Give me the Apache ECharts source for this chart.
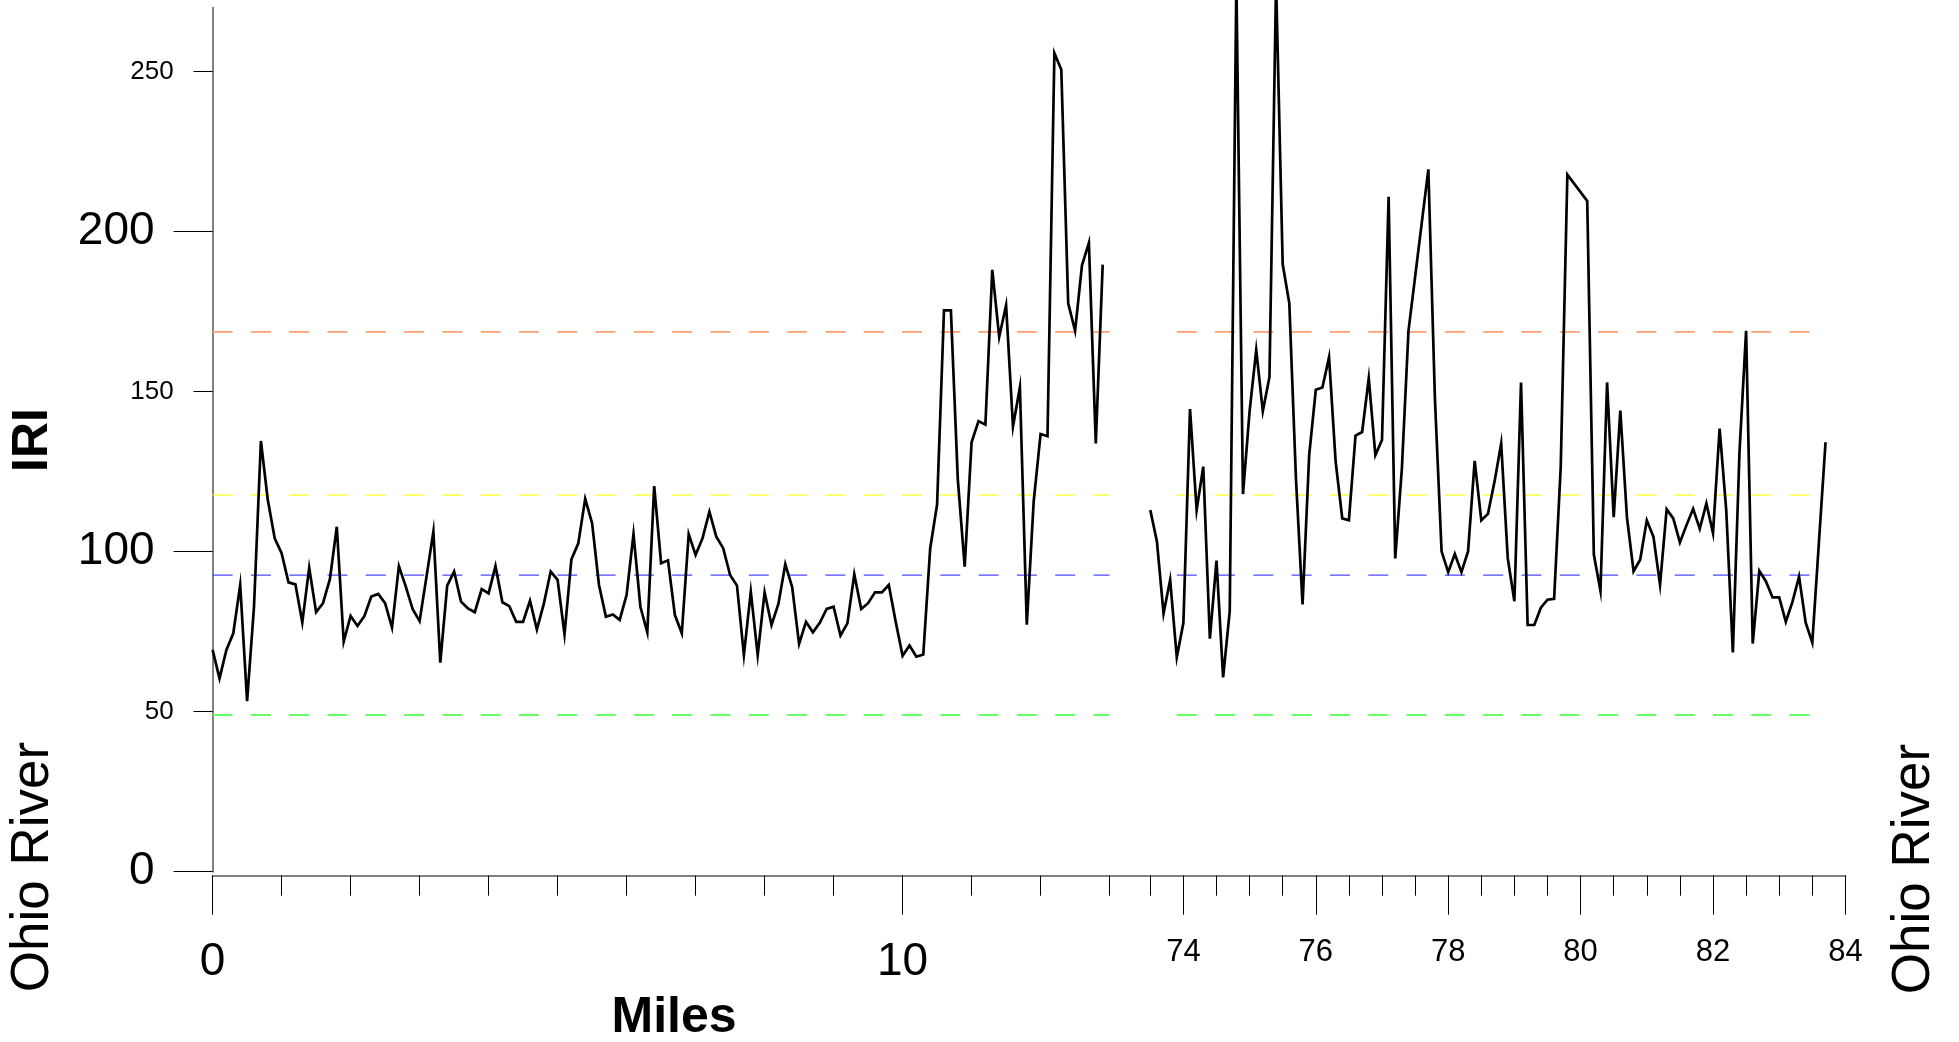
<!DOCTYPE html>
<html>
<head>
<meta charset="utf-8">
<script src="https://cdn.jsdelivr.net/npm/echarts@6/dist/echarts.min.js"></script>
<style>
html,body{margin:0;padding:0;background:#fff;}
#chart{width:1959px;height:1042px;}
</style>
</head>
<body>
<div id="chart"></div>
<script>
// ---- data (miles, IRI) ----
const leftMiles = [0.0,0.1,0.2,0.3,0.4,0.5,0.6,0.7,0.8,0.9,1.0,1.1,1.2,1.3,1.4,1.5,1.6,1.7,1.8,1.9,
2.0,2.1,2.2,2.3,2.4,2.5,2.6,2.7,2.8,2.9,3.0,3.1,3.2,3.3,3.4,3.5,3.6,3.7,3.8,3.9,
4.0,4.1,4.2,4.3,4.4,4.5,4.6,4.7,4.8,4.9,5.0,5.1,5.2,5.3,5.4,5.5,5.6,5.7,5.8,5.9,
6.0,6.1,6.2,6.3,6.4,6.5,6.6,6.7,6.8,6.9,7.0,7.1,7.2,7.3,7.4,7.5,7.6,7.7,7.8,7.9,
8.0,8.1,8.2,8.3,8.4,8.5,8.6,8.7,8.8,8.9,9.0,9.1,9.2,9.3,9.4,9.5,9.6,9.7,9.8,9.9,
10.0,10.1,10.2,10.3,10.4,10.5,10.6,10.7,10.8,10.9,11.0,11.1,11.2,11.3,11.4,11.5,11.6,11.7,11.8,11.9,
12.0,12.1,12.2,12.3,12.4,12.5,12.6,12.7,12.8,12.9];
const leftIRI = [69.3,60.4,69.3,74.5,89.6,53.3,82.8,134.6,116.2,104.2,99.5,90.4,89.8,77.9,95.0,81.1,83.9,91.4,107.8,71.9,
79.9,76.8,79.9,86.0,86.8,83.9,76.3,95.5,89.1,82.0,78.3,92.2,106.3,65.3,89.4,93.8,84.4,82.3,81.1,88.3,
87.0,95.5,84.2,83.0,78.1,78.1,84.7,75.7,83.7,93.8,91.2,74.2,97.6,102.6,116.5,108.9,89.6,79.7,80.4,78.7,
86.5,105.5,82.8,74.8,120.5,96.4,97.3,80.2,74.5,105.5,99.0,104.2,112.5,104.7,101.1,92.7,89.4,67.7,87.5,67.7,
87.3,77.1,83.7,96.1,88.9,71.2,78.1,74.8,77.8,82.1,82.8,73.8,77.6,92.9,82.1,83.9,87.3,87.3,89.6,78.1,
67.5,70.7,67.2,67.9,101.0,114.8,175.4,175.4,122.7,95.3,134.2,140.8,139.7,188.1,167.1,177.0,139.1,151.4,77.2,115.7,
136.8,136.1,255.8,250.7,177.6,169.0,189.5,196.5,133.8,189.7];

const rightMiles = [73.5,73.6,73.7,73.8,73.9,74.0,74.1,74.2,74.3,74.4,74.5,74.6,74.7,74.8,74.9,
75.0,75.1,75.2,75.3,75.4,75.5,75.6,75.7,75.8,75.9,76.0,76.1,76.2,76.3,76.4,76.5,76.6,76.7,76.8,76.9,
77.0,77.1,77.2,77.3,77.4,77.7,77.8,77.9,78.0,78.1,78.2,78.3,78.4,78.5,78.6,78.7,78.8,78.9,
79.0,79.1,79.2,79.3,79.4,79.5,79.6,79.7,79.8,80.1,80.2,80.3,80.4,80.5,80.6,80.7,80.8,80.9,
81.0,81.1,81.2,81.3,81.4,81.5,81.6,81.7,81.8,81.9,82.0,82.1,82.2,82.3,82.4,82.5,82.6,82.7,82.8,82.9,
83.0,83.1,83.2,83.3,83.4,83.5,83.6,83.7];
const rightIRI = [113.0,103.2,80.7,91.2,67.0,77.8,144.6,113.0,126.6,72.8,97.2,60.7,81.4,278,118.0,
143.9,163.0,143.9,154.6,278,189.8,177.6,123.0,83.5,130.2,150.6,151.3,160.8,128.1,110.4,109.8,136.3,137.4,154.2,130.2,
134.9,210.9,97.9,125.9,169.0,219.5,147.5,100.1,93.6,99.3,93.6,100.1,128.4,109.8,111.8,121.9,133.8,97.9,
84.5,152.9,77.1,77.1,82.5,85.0,85.3,126.6,217.8,209.6,99.1,87.8,152.9,110.8,144.1,110.8,93.9,97.5,
109.8,104.7,89.7,113.3,110.4,102.9,108.3,113.4,107.2,115.1,105.8,138.5,113.0,68.5,131.1,169.0,71.3,94.0,90.7,85.7,
85.7,78.1,84.3,92.2,77.8,71.6,102.9,134.2];

// threshold reference lines
const thresholdValues = [49.0, 92.7, 117.7, 168.7];
const thresholdColors = ['#66ff66', '#4a4aff', '#ffff22', '#ffa070'];
const thresholdWidths = [2, 1.2, 1.2, 1.6];
const leftRefRange = [0, 13.0];
const rightRefRange = [73.9, 83.5];

// tick labels
const leftMinorTicks = [0,1,2,3,4,5,6,7,8,9,10,11,12,13];
const leftMajorTicks = [0,10];
const rightMinorTicks = [73.5,74,74.5,75,75.5,76,76.5,77,77.5,78,78.5,79,79.5,80,80.5,81,81.5,82,82.5,83,83.5,84];
const rightMajorTicks = [74,76,78,80,82,84];
const yMajorTicks = [0,100,200];
const yMinorTicks = [50,150,250];

const FONT = '"Liberation Sans", Arial, Helvetica, sans-serif';
const AXIS_GRAY = '#808080';

function pairs(xs, ys){ return xs.map((x,i)=>[x, ys[i]]); }

const chart = echarts.init(document.getElementById('chart'), null, {renderer:'canvas'});

const series = [];
thresholdValues.forEach((v,i)=>{
  series.push({
    type:'line', xAxisIndex:0, yAxisIndex:0, symbol:'none', silent:true, animation:false,
    data:[[leftRefRange[0], v],[leftRefRange[1], v]],
    lineStyle:{color:thresholdColors[i], width:thresholdWidths[i], type:[20,18.3]}, z:1
  });
  series.push({
    type:'line', xAxisIndex:2, yAxisIndex:2, symbol:'none', silent:true, animation:false,
    data:[[rightRefRange[0], v],[rightRefRange[1], v]],
    lineStyle:{color:thresholdColors[i], width:thresholdWidths[i], type:[20,18.3]}, z:1
  });
});
series.push({
  type:'line', xAxisIndex:0, yAxisIndex:0, symbol:'none', clip:false, animation:false,
  data:pairs(leftMiles,leftIRI), lineStyle:{color:'#000', width:2.7, join:'miter'}, z:3
});
series.push({
  type:'line', xAxisIndex:2, yAxisIndex:2, symbol:'none', clip:false, animation:false,
  data:pairs(rightMiles,rightIRI), lineStyle:{color:'#000', width:2.7, join:'miter'}, z:3
});

function xAx(gridIndex, min, max, ticks, tickLen, showLine, labels, fontSize, margin){
  return {
    type:'value', gridIndex, min, max, position:'bottom', offset:4,
    axisLine:{show:showLine, onZero:false, lineStyle:{color:AXIS_GRAY, width:2}},
    axisTick:{show:true, customValues:ticks, length:tickLen, lineStyle:{color:'#000', width:1}},
    axisLabel: labels ? {show:true, customValues:labels, margin, fontSize, color:'#000', fontFamily:FONT}
                      : {show:false},
    splitLine:{show:false}
  };
}
function yAx(gridIndex, ticks, tickLen, showLine, labels, fontSize, margin, show){
  return {
    type:'value', gridIndex, min:0, max:270, position:'left', show: show!==false,
    axisLine:{show:showLine, onZero:false, lineStyle:{color:AXIS_GRAY, width:2}},
    axisTick:{show:true, customValues:ticks, length:tickLen, lineStyle:{color:'#000', width:1}},
    axisLabel:{show:true, customValues:labels, margin, fontSize, color:'#000', fontFamily:FONT},
    splitLine:{show:false}
  };
}

const option = {
  backgroundColor:'#fff',
  animation:false,
  grid:[
    {left:212.6, top:7.7, width:937.7, height:864, outerBoundsMode:'none', containLabel:false},
    {left:1150.3, top:7.7, width:695.1, height:864, outerBoundsMode:'none', containLabel:false}
  ],
  xAxis:[
    xAx(0, 0, 13.59, leftMinorTicks, 20, true, null),
    xAx(0, 0, 13.59, leftMajorTicks, 39, false, leftMajorTicks, 46, 64),
    xAx(1, 73.5, 84, rightMinorTicks, 20, true, null),
    xAx(1, 73.5, 84, rightMajorTicks, 39, false, rightMajorTicks, 31, 61)
  ],
  yAxis:[
    yAx(0, yMajorTicks, 39, true, yMajorTicks, 46, 58),
    yAx(0, yMinorTicks, 19, false, yMinorTicks, 26, 39),
    yAx(1, [], 0, false, [], 10, 0, false)
  ],
  series,
  graphic:[
    {type:'text', x:33.7, y:440, rotation:Math.PI/2,
     style:{text:'IRI', font:'bold 50px ' + FONT, fill:'#000', textAlign:'center', textVerticalAlign:'middle'}},
    {type:'text', x:33.7, y:867, rotation:Math.PI/2,
     style:{text:'Ohio River', font:'53px ' + FONT, fill:'#000', textAlign:'center', textVerticalAlign:'middle'}},
    {type:'text', x:1914, y:869, rotation:Math.PI/2,
     style:{text:'Ohio River', font:'53px ' + FONT, fill:'#000', textAlign:'center', textVerticalAlign:'middle'}},
    {type:'text', x:674, y:1018,
     style:{text:'Miles', font:'bold 50px ' + FONT, fill:'#000', textAlign:'center', textVerticalAlign:'middle'}}
  ]
};
chart.setOption(option);
</script>
</body>
</html>
